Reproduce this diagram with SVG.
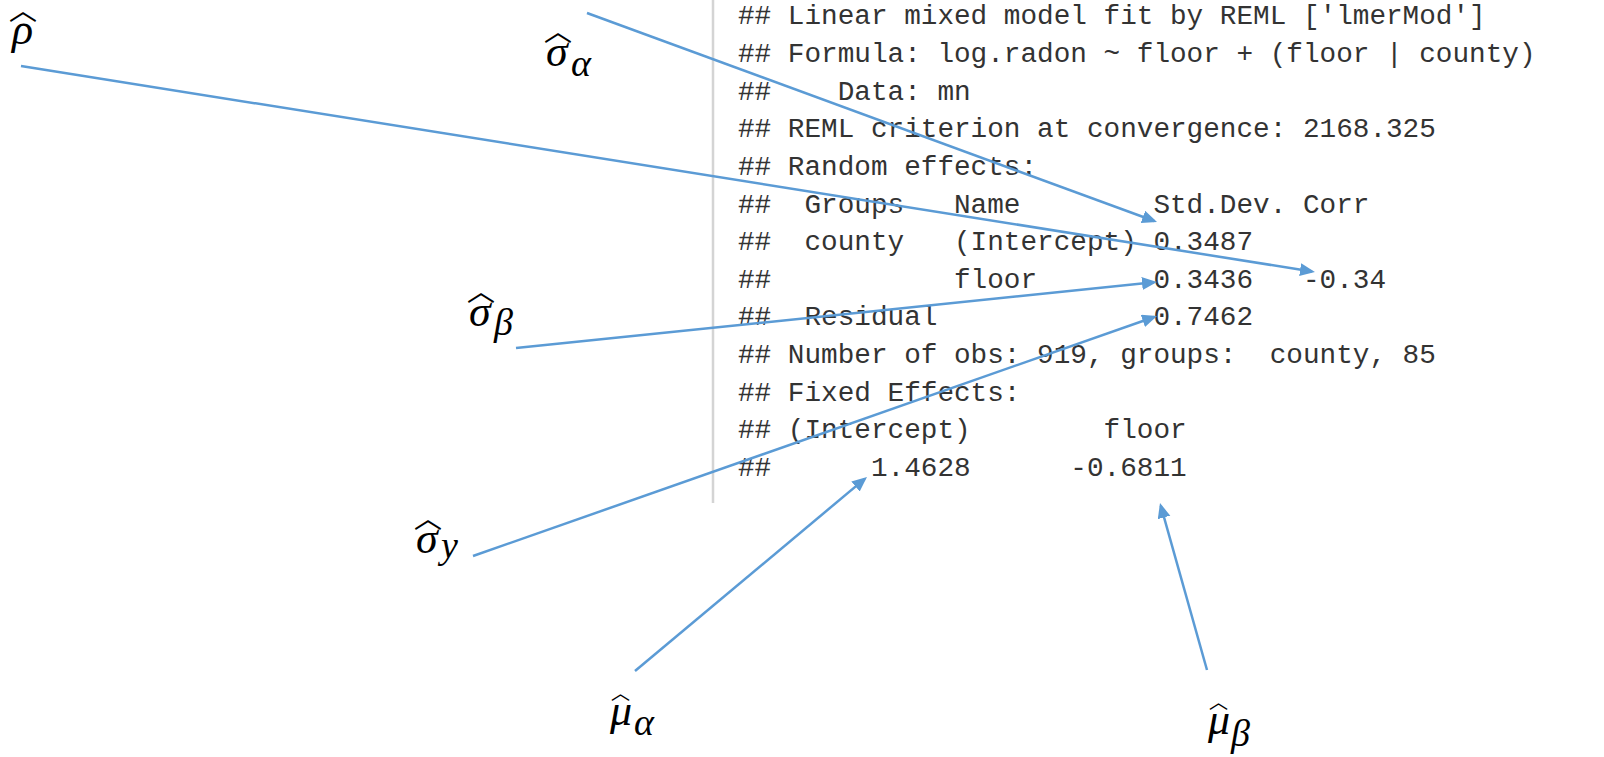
<svg xmlns="http://www.w3.org/2000/svg" width="1604" height="757" viewBox="0 0 1604 757">
  <style>
    .out { font-family: "Liberation Mono", "Courier New", monospace; font-size: 27.7px; fill: #333333; white-space: pre; }
    .sym { font-family: "Liberation Serif", "Times New Roman", serif; font-style: italic; font-size: 44px; fill: #000000; }
    .sub { font-size: 38px; }
    .hat { font-family: "Noto Sans CJK SC", sans-serif; font-style: normal; font-size: 28px; }
    .hat-s { font-family: "Noto Sans CJK SC", sans-serif; font-style: normal; font-size: 19px; }
    .conn { stroke: #5B9BD5; stroke-width: 2.5; fill: none; marker-end: url(#arrow); }
  </style>
  <defs>
    <marker id="arrow" markerUnits="userSpaceOnUse" markerWidth="16" markerHeight="14" refX="12" refY="6.5" orient="auto">
      <path d="M0,0 L15,6.5 L0,13 Z" fill="#5B9BD5"/>
    </marker>
  </defs>
  <rect width="1604" height="757" fill="#ffffff"/>

  <!-- console output panel -->
  <g id="console">
    <line x1="713" y1="0" x2="713" y2="503" stroke="#d4d4d4" stroke-width="2.5"/>
    <text class="out" xml:space="preserve" x="738" y="24.3">## Linear mixed model fit by REML ['lmerMod']</text>
    <text class="out" xml:space="preserve" x="738" y="61.9">## Formula: log.radon ~ floor + (floor | county)</text>
    <text class="out" xml:space="preserve" x="738" y="99.6">##    Data: mn</text>
    <text class="out" xml:space="preserve" x="738" y="137.2">## REML criterion at convergence: 2168.325</text>
    <text class="out" xml:space="preserve" x="738" y="174.9">## Random effects:</text>
    <text class="out" xml:space="preserve" x="738" y="212.5">##  Groups   Name        Std.Dev. Corr</text>
    <text class="out" xml:space="preserve" x="738" y="250.1">##  county   (Intercept) 0.3487</text>
    <text class="out" xml:space="preserve" x="738" y="287.8">##           floor       0.3436   -0.34</text>
    <text class="out" xml:space="preserve" x="738" y="325.4">##  Residual             0.7462</text>
    <text class="out" xml:space="preserve" x="738" y="363.1">## Number of obs: 919, groups:  county, 85</text>
    <text class="out" xml:space="preserve" x="738" y="400.7">## Fixed Effects:</text>
    <text class="out" xml:space="preserve" x="738" y="438.3">## (Intercept)        floor</text>
    <text class="out" xml:space="preserve" x="738" y="476.0">##      1.4628      -0.6811</text>
  </g>

  <!-- connectors -->
  <g id="connectors">
    <line class="conn" x1="587" y1="13" x2="1154.2" y2="221.0"/>
    <line class="conn" x1="21" y1="66" x2="1312.0" y2="271.5"/>
    <line class="conn" x1="516" y1="348" x2="1154.0" y2="282.3"/>
    <line class="conn" x1="473" y1="556" x2="1154.2" y2="317.0"/>
    <line class="conn" x1="635" y1="671" x2="864.7" y2="478.9"/>
    <line class="conn" x1="1207" y1="670" x2="1160.8" y2="505.9"/>
  </g>

  <!-- estimate labels: letter, hat, subscript -->
  <g id="rho">
    <text class="sym" x="12" y="44">ρ<tspan class="hat" x="9" y="20">︿</tspan></text>
  </g>
  <g id="sigma-alpha">
    <text class="sym" x="546" y="66">σ<tspan class="hat" x="544" y="41">︿</tspan><tspan class="sub" x="571" y="76">α</tspan></text>
  </g>
  <g id="sigma-beta">
    <text class="sym" x="469" y="326">σ<tspan class="hat" x="467" y="301">︿</tspan><tspan class="sub" x="494" y="335">β</tspan></text>
  </g>
  <g id="sigma-y">
    <text class="sym" x="416" y="553">σ<tspan class="hat" x="414" y="528">︿</tspan><tspan class="sub" x="441" y="558">y</tspan></text>
  </g>
  <g id="mu-alpha">
    <text class="sym" x="610" y="725">μ<tspan class="hat-s" x="611" y="700">︿</tspan><tspan class="sub" x="634" y="735">α</tspan></text>
  </g>
  <g id="mu-beta">
    <text class="sym" x="1208" y="734">μ<tspan class="hat-s" x="1209" y="709">︿</tspan><tspan class="sub" x="1231" y="746">β</tspan></text>
  </g>
</svg>
